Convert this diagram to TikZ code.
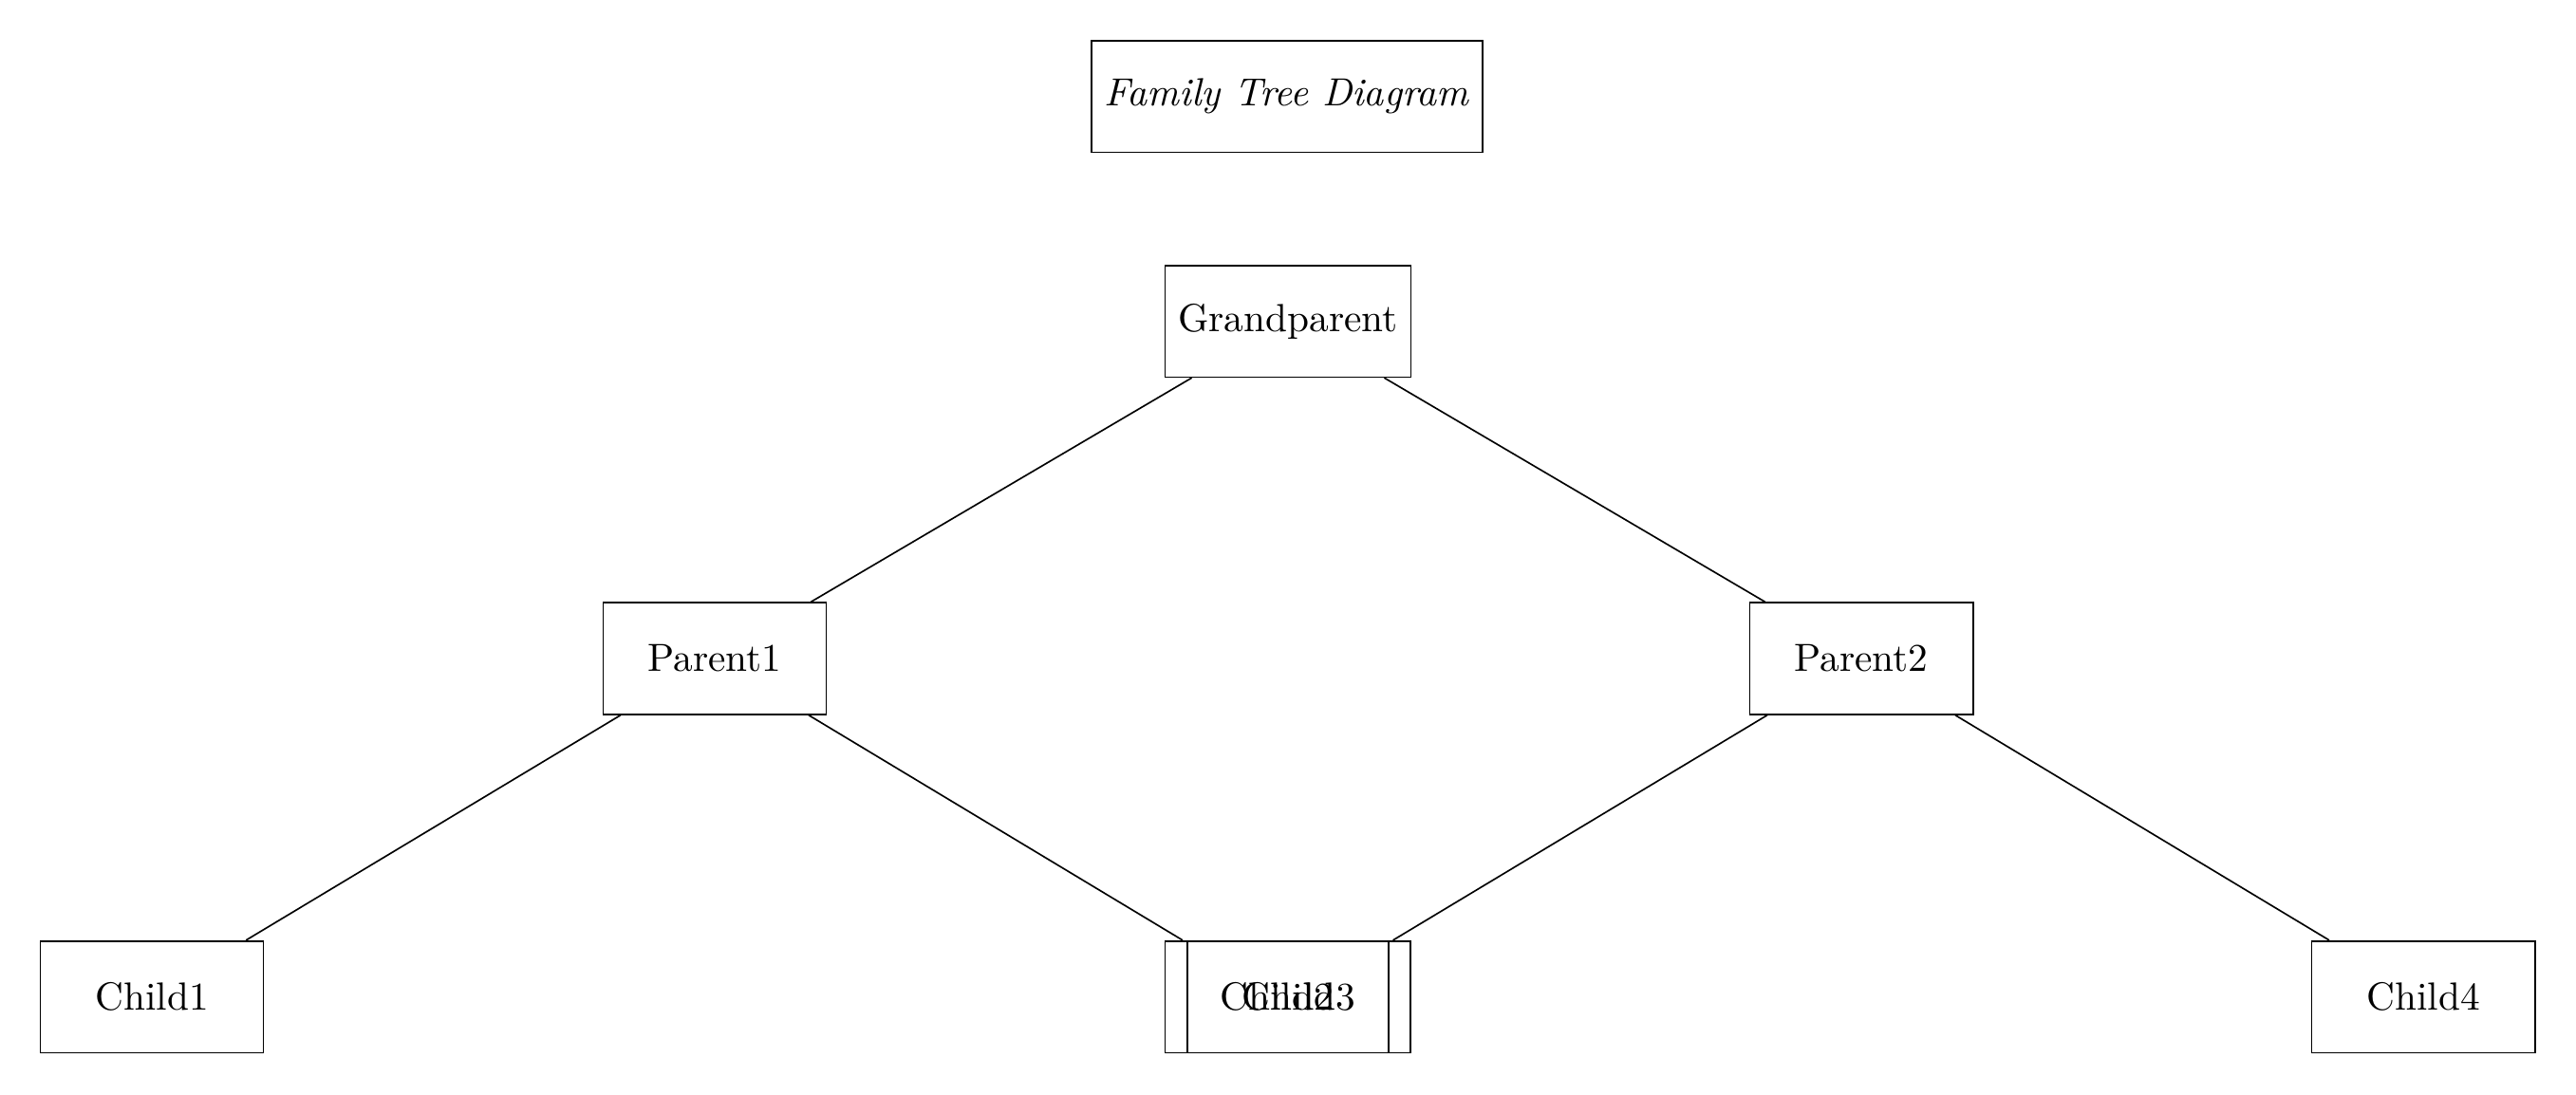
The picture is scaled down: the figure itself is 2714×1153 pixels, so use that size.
\documentclass[tikz,border=0pt]{standalone}
\begin{document}
\begin{tikzpicture}[x=0.0085cm,y=-0.0085cm,
  box/.style={draw,minimum width=2cm,minimum height=1cm,inner sep=3.33pt}]
\useasboundingbox (0,0) rectangle (2714,1153);
\node[box] (title) at (1356,101.5) {\textit{Family Tree Diagram}};
\node[box] (gp) at (1357,338.5) {Grandparent};
\node[box] (p1) at (753,694) {Parent1};
\node[box] (p2) at (1961,694) {Parent2};
\node[box] (c1) at (160,1050.5) {Child1};
\node[box] (c2) at (1345,1050.5) {Child2};
\node[box] (c3) at (1368.5,1050.5) {Child3};
\node[box] (c4) at (2553,1050.5) {Child4};
\draw (gp) -- (p1);
\draw (gp) -- (p2);
\draw (p1) -- (c1);
\draw (p1) -- (c2);
\draw (p2) -- (c3);
\draw (p2) -- (c4);
\end{tikzpicture}
\end{document}
